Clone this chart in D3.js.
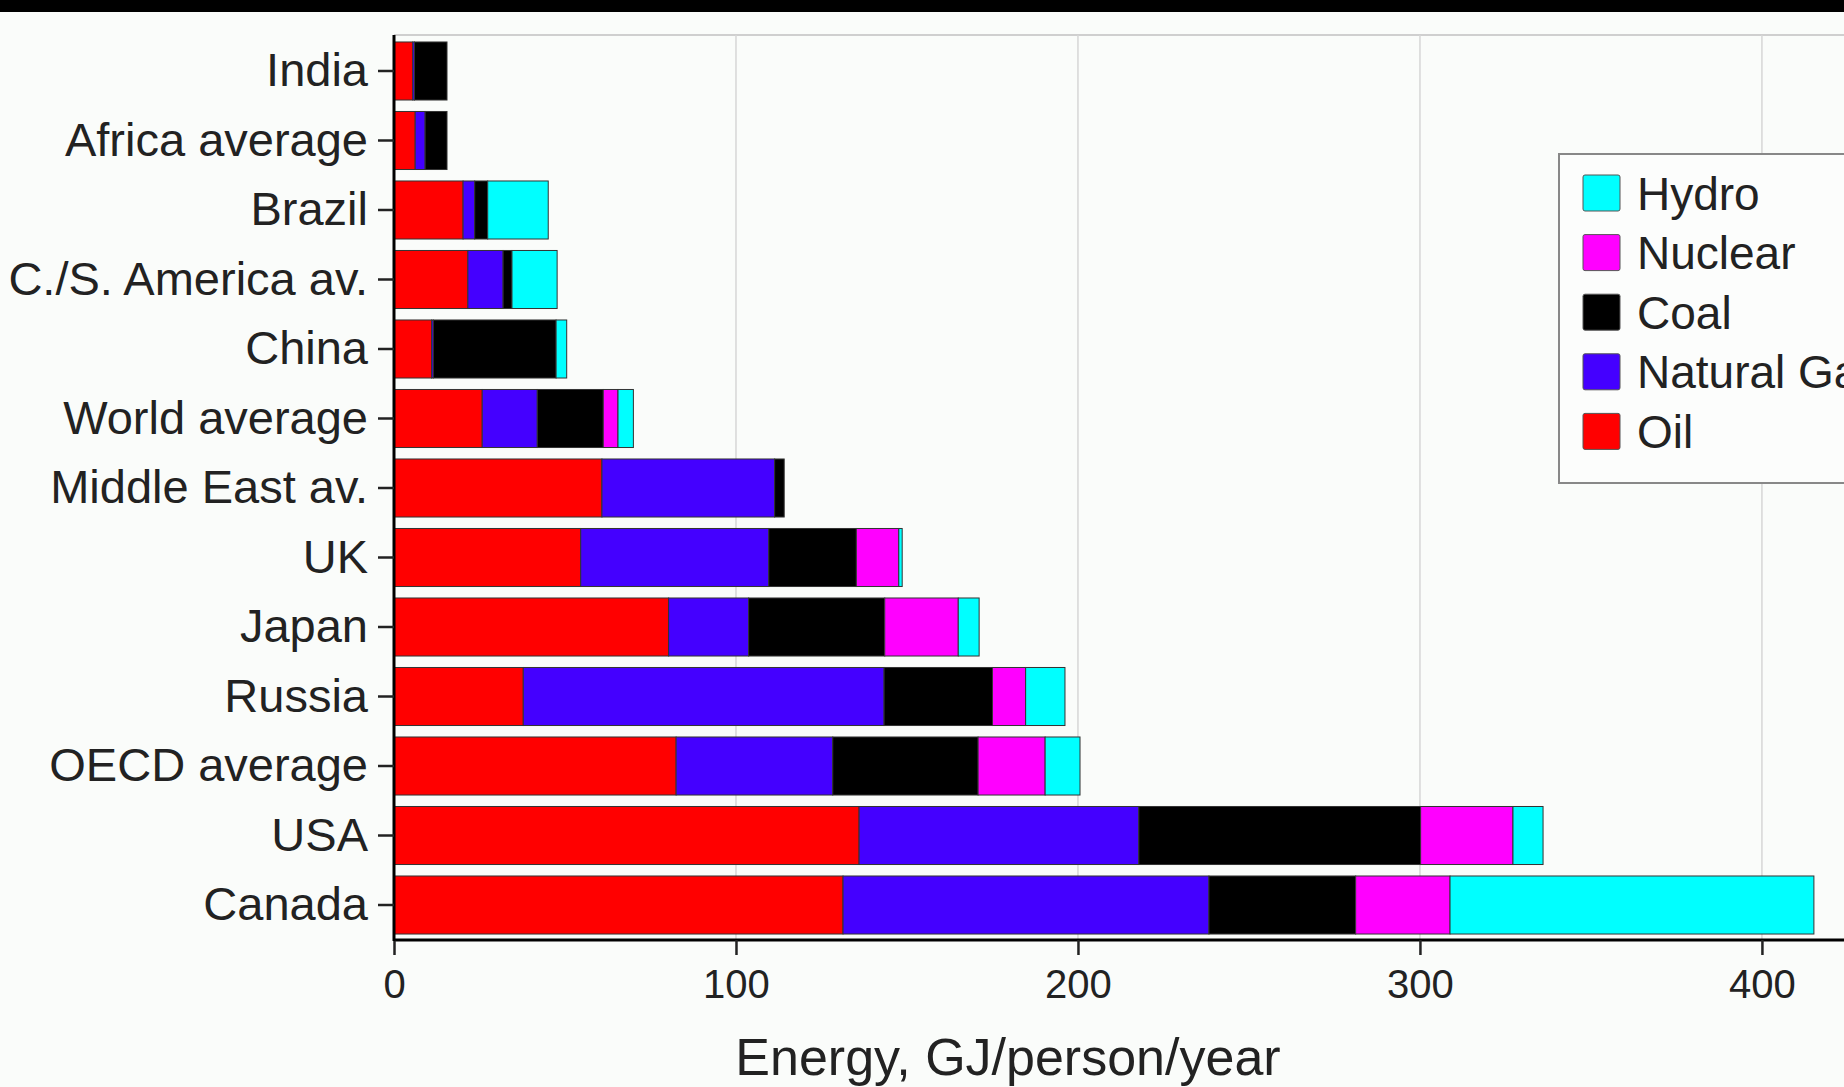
<!DOCTYPE html>
<html>
<head>
<meta charset="utf-8">
<script src="https://cdn.jsdelivr.net/npm/d3@7"></script>
<style>
  body { margin: 0; background: #fafcfa; overflow: hidden; }
  svg { display: block; font-family: "Liberation Sans", Arial, sans-serif; }
</style>
</head>
<body>
<svg></svg>
<script>
// categories, top to bottom
const countries = ["India", "Africa average", "Brazil", "C./S. America av.", "China",
  "World average", "Middle East av.", "UK", "Japan", "Russia", "OECD average", "USA", "Canada"]

// GJ/person/year per fuel
const oil     = [5.5, 6.2, 20.2, 21.6, 11.0, 25.8, 60.8, 54.6, 80.3, 37.8, 82.5, 136.0, 131.3]
const gas     = [0.5, 2.9, 3.4, 10.3, 0.5, 16.1, 50.5, 55.0, 23.4, 105.5, 45.8, 81.8, 107.0]
const coal    = [9.5, 6.4, 3.8, 2.6, 35.9, 19.3, 2.8, 25.6, 39.8, 31.7, 42.5, 82.4, 42.9]
const nuclear = [0, 0, 0, 0, 0, 4.3, 0, 12.4, 21.5, 9.7, 19.6, 27.0, 27.6]
const hydro   = [0, 0, 17.7, 13.2, 3.1, 4.5, 0, 1.0, 6.1, 11.5, 10.2, 8.8, 106.4]

const fuels = ["Oil", "Natural Gas", "Coal", "Nuclear", "Hydro"]
const fuelColors = ["#ff0000", "#4400ff", "#000000", "#ff00ff", "#00ffff"]
const xTicks = [0, 100, 200, 300, 400]

const width = 1844
const height = 1087

let svg = d3.select("svg")
    .attr("width", width)
    .attr("height", height)

// black band from the video frame
svg.append("rect")
    .attr("x", 0).attr("y", 0)
    .attr("width", width).attr("height", 12)
    .attr("fill", "#000")

const rows = countries.map((c, i) => ({
  country: c,
  "Oil": oil[i], "Natural Gas": gas[i], "Coal": coal[i],
  "Nuclear": nuclear[i], "Hydro": hydro[i]
}))

let x = d3.scaleLinear().domain([0, 424]).range([394, 1844])
let y = d3.scaleBand().domain(countries).range([36, 940])
    .paddingInner(0.165)
    .paddingOuter(0.086)
let color = d3.scaleOrdinal().domain(fuels).range(fuelColors)

// top frame line
svg.append("line")
    .attr("x1", x(0)).attr("x2", width)
    .attr("y1", 35).attr("y2", 35)
    .attr("stroke", "#cfcfcf")
    .attr("stroke-width", 2)

// gridlines
svg.selectAll(".grid")
    .data(xTicks.slice(1))
    .enter()
    .append("line")
    .attr("class", "grid")
    .attr("x1", d => x(d)).attr("x2", d => x(d))
    .attr("y1", 35).attr("y2", 940)
    .attr("stroke", "#d6d6d6")
    .attr("stroke-width", 1.5)

// stacked bars
let series = d3.stack().keys(fuels)(rows)

svg.selectAll(".layer")
    .data(series)
    .enter()
    .append("g")
    .attr("class", "layer")
    .attr("fill", d => color(d.key))
    .selectAll("rect")
    .data(d => d.filter(s => s[1] - s[0] > 0))
    .enter()
    .append("rect")
    .attr("x", d => x(d[0]))
    .attr("y", d => y(d.data.country))
    .attr("width", d => x(d[1]) - x(d[0]))
    .attr("height", y.bandwidth())
    .attr("stroke", "#333")
    .attr("stroke-width", 1)

// x axis
let xAxis = svg.append("g")
    .attr("transform", "translate(0,940)")
    .call(d3.axisBottom(x).tickValues(xTicks).tickSize(15).tickPadding(15))

xAxis.select(".domain").attr("stroke", "#000").attr("stroke-width", 3)
    .attr("d", "M" + x(0) + ",0H" + width)
xAxis.selectAll(".tick line").attr("stroke", "#222").attr("stroke-width", 2.5)
xAxis.selectAll(".tick text")
    .attr("font-size", 40)
    .attr("fill", "#222")

// y axis
let yAxis = svg.append("g")
    .attr("transform", "translate(" + x(0) + ",0)")
    .call(d3.axisLeft(y).tickSize(16).tickPadding(10))

yAxis.select(".domain").attr("stroke", "#000").attr("stroke-width", 3)
    .attr("d", "M0,35V941")
yAxis.selectAll(".tick line").attr("stroke", "#222").attr("stroke-width", 2.5)
yAxis.selectAll(".tick text")
    .attr("font-size", 47)
    .attr("fill", "#222")

// axis title
svg.append("text")
    .attr("x", 1008)
    .attr("y", 1075)
    .attr("text-anchor", "middle")
    .attr("font-size", 52)
    .attr("fill", "#222")
    .text("Energy, GJ/person/year")

// legend, reversed order (Hydro on top)
let legend = svg.append("g")

legend.append("rect")
    .attr("x", 1559).attr("y", 154)
    .attr("width", 400).attr("height", 329)
    .attr("fill", "#fcfdfc")
    .attr("stroke", "#888")
    .attr("stroke-width", 2)

let items = legend.selectAll(".item")
    .data(fuels.slice().reverse())
    .enter()
    .append("g")
    .attr("class", "item")
    .attr("transform", (d, i) => "translate(1583," + (175 + i * 59.6) + ")")

items.append("rect")
    .attr("width", 37).attr("height", 36)
    .attr("rx", 2)
    .attr("fill", d => color(d))
    .attr("stroke", "#555")
    .attr("stroke-width", 1)

items.append("text")
    .attr("x", 54)
    .attr("y", 18)
    .attr("dy", "0.36em")
    .attr("font-size", 46)
    .attr("fill", "#222")
    .text(d => d)
</script>
</body>
</html>
